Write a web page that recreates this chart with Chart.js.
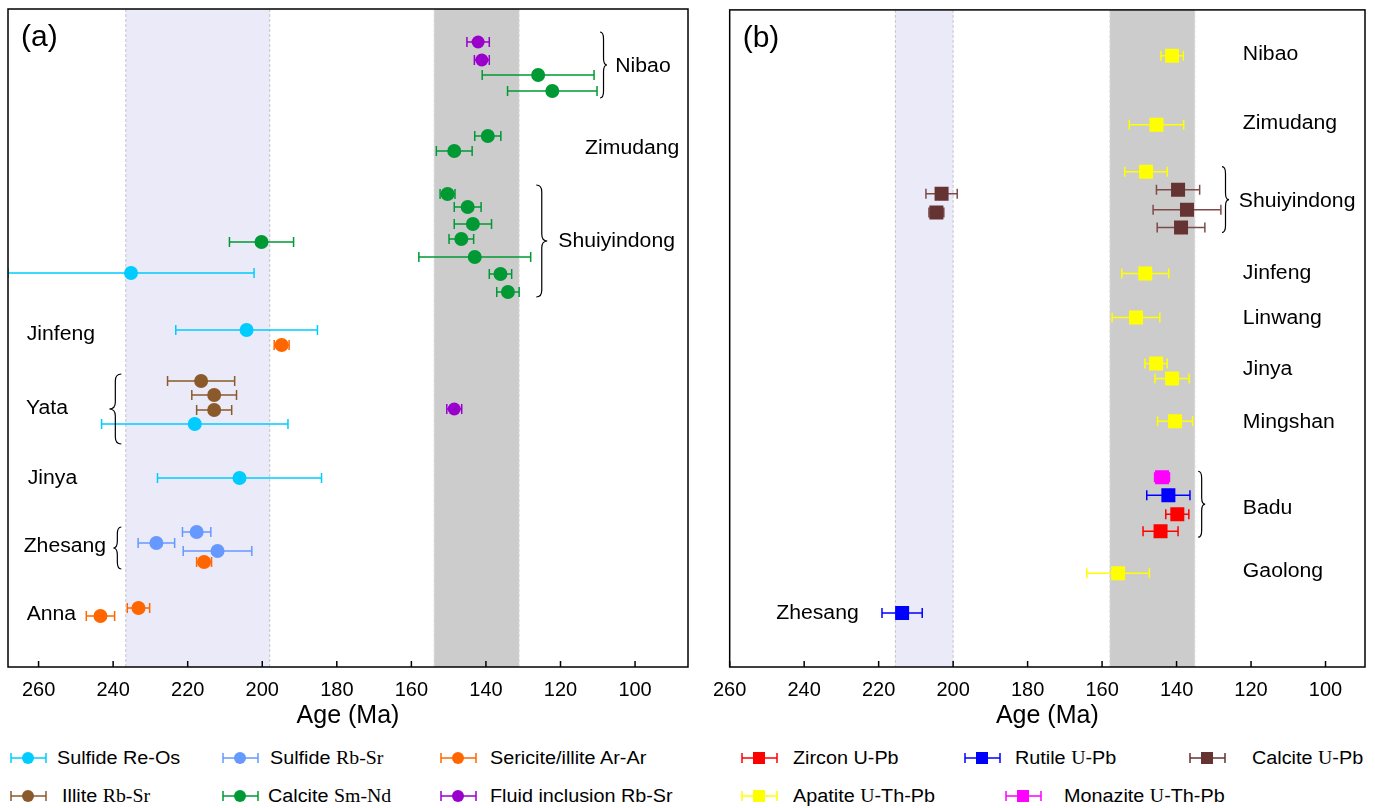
<!DOCTYPE html>
<html>
<head>
<meta charset="utf-8">
<script src="https://cdn.jsdelivr.net/npm/chart.js@4.4.1/dist/chart.umd.min.js"></script>
<style>
body { margin: 0; background: #fff; font-family: "Liberation Sans", Arial, sans-serif; }
#wrap { position: relative; width: 1375px; height: 808px; overflow: hidden; }
#ca { position: absolute; left: 0; top: 0; }
#cb { position: absolute; left: 702px; top: 0; }
.sym { position: absolute; }
.txt { position: absolute; font-size: 18px; line-height: 22px; color: #000; white-space: nowrap; transform-origin: left center; transform: scaleX(1.1); }
.sr { font-family: "Liberation Serif", "Times New Roman", serif; }
</style>
</head>
<body>
<div id="wrap">
  <canvas id="ca" width="700" height="740"></canvas>
  <canvas id="cb" width="673" height="740"></canvas>
</div>
<script>
// ---- panel (a) data: age (Ma), 2-sigma error, row position ----
var reOsAge = [235.2, 204.2, 218.1, 206.1];
var reOsErr = [33, 19, 25, 22];
var reOsRow = [26.4, 32.1, 41.5, 46.9];

var sulfRbSrAge = [217.6, 228.4, 212.0];
var sulfRbSrErr = [3.8, 4.9, 9.2];
var sulfRbSrRow = [52.3, 53.4, 54.2];

var arArAge = [194.8, 215.6, 233.2, 243.4];
var arArErr = [2, 2, 3, 3.8];
var arArRow = [33.6, 55.3, 59.9, 60.7];

var illiteAge = [216.4, 212.9, 212.9];
var illiteErr = [9, 6, 4.7];
var illiteRow = [37.2, 38.6, 40.1];

var smNdAge = [126.0, 122.2, 139.5, 148.5, 150.3, 144.9, 143.5, 146.6, 143.0, 136.1, 134.1, 200.2];
var smNdErr = [15, 12, 3.5, 4.8, 2, 3.6, 5, 3.3, 15, 3, 3, 8.6];
var smNdRow = [6.6, 8.2, 12.7, 14.2, 18.5, 19.8, 21.5, 23.0, 24.8, 26.5, 28.3, 23.3];

var fluidAge = [142.1, 141.1, 148.5];
var fluidErr = [3, 2, 2];
var fluidRow = [3.3, 5.1, 40.0];

// ---- panel (b) data ----
var zirconAge = [139.8, 144.3];
var zirconErr = [3.1, 4.7];
var zirconRow = [50.5, 52.2];

var rutileAge = [142.2, 213.7];
var rutileErr = [5.8, 5.4];
var rutileRow = [48.6, 60.4];

var calciteUPbAge = [139.6, 137.2, 138.8, 203.1, 204.5];
var calciteUPbErr = [5.8, 9.1, 6.4, 4.2, 2];
var calciteUPbRow = [18.0, 20.0, 21.8, 18.4, 20.3];

var apatiteAge = [141.2, 145.4, 148.2, 148.4, 150.9, 145.5, 141.2, 140.4, 155.7];
var apatiteErr = [3, 7.3, 5.7, 6.3, 6.4, 3, 4.6, 4.7, 8.4];
var apatiteRow = [4.6, 11.5, 16.2, 26.4, 30.8, 35.4, 36.9, 41.2, 56.4];

var monaziteAge = [143.9];
var monaziteErr = [2];
var monaziteRow = [46.8];

// ---- axes, shaded age windows, deposit names ----
var xTicks = [260, 240, 220, 200, 180, 160, 140, 120, 100];
var bandsA = [[236.6, 198.0], [153.9, 131.1]];
var bandsB = [[215.5, 200.0], [157.9, 135.1]];

var sitesA = ['Nibao', 'Zimudang', 'Shuiyindong', 'Jinfeng', 'Yata', 'Jinya', 'Zhesang', 'Anna'];
var siteAgeA = [105.3, 113.4, 120.6, 263.2, 263.4, 262.9, 264.0, 263.2];
var siteRowA = [5.7, 13.9, 23.2, 32.5, 39.9, 46.9, 53.7, 60.5];

var sitesB = ['Nibao', 'Zimudang', 'Shuiyindong', 'Jinfeng', 'Linwang', 'Jinya', 'Mingshan', 'Badu', 'Gaolong', 'Zhesang'];
var siteAgeB = [122.2, 122.2, 123.3, 122.2, 122.2, 122.2, 122.2, 122.2, 122.2, 247.5];
var siteRowB = [4.5, 11.4, 19.2, 26.4, 30.9, 36.0, 41.3, 49.9, 56.2, 60.4];

// braces: [age of ends, row top, row bottom, direction(+1 right / -1 left), px width]
var bracesA = [[109.4, 2.3, 8.9, 1, 7], [126.5, 17.6, 28.8, 1, 11], [237.8, 36.5, 43.5, -1, 12], [237.8, 51.8, 56.0, -1, 8]];
var bracesB = [[127.8, 15.7, 22.3, 1, 7], [134.2, 46.2, 52.8, 1, 7]];

Chart.defaults.font.family = '"Liberation Sans", Arial, sans-serif';
Chart.defaults.color = '#000';

function pts(ages, rows) {
  return ages.map(function (a, i) { return { x: a, y: rows[i] }; });
}

function series(label, ages, errs, rows, color, style, r, barColor) {
  return {
    label: label,
    data: pts(ages, rows),
    xErr: errs,
    barColor: barColor || color,
    pointStyle: style,
    pointRadius: r,
    pointHoverRadius: r,
    pointBackgroundColor: color,
    pointBorderColor: color,
    pointBorderWidth: 0
  };
}

function drawBrace(ctx, x0, y0, y1, dir, w) {
  var xs = x0 + dir * w * 0.5, ym = (y0 + y1) / 2, q = Math.min(7, (y1 - y0) / 5);
  ctx.beginPath();
  ctx.moveTo(x0, y0);
  ctx.quadraticCurveTo(xs, y0, xs, y0 + q);
  ctx.lineTo(xs, ym - q);
  ctx.quadraticCurveTo(xs, ym, x0 + dir * w, ym);
  ctx.quadraticCurveTo(xs, ym, xs, ym + q);
  ctx.lineTo(xs, y1 - q);
  ctx.quadraticCurveTo(xs, y1, x0, y1);
  ctx.stroke();
}

var decor = {
  id: 'decor',
  beforeDatasetsDraw: function (chart) {
    var ctx = chart.ctx, a = chart.chartArea, x = chart.scales.x, y = chart.scales.y;
    var o = chart.options.plugins.decor;
    ctx.save();
    o.bands.forEach(function (b, k) {
      var p0 = x.getPixelForValue(b[0]), p1 = x.getPixelForValue(b[1]);
      ctx.fillStyle = k === 0 ? '#eaeaf8' : '#cccccc';
      ctx.fillRect(p0, a.top, p1 - p0, a.bottom - a.top);
      ctx.strokeStyle = k === 0 ? '#c4c4cc' : '#dadada';
      ctx.lineWidth = 1;
      ctx.setLineDash([3, 2]);
      [p0, p1].forEach(function (p) {
        ctx.beginPath(); ctx.moveTo(p, a.top); ctx.lineTo(p, a.bottom); ctx.stroke();
      });
      ctx.setLineDash([]);
    });
    ctx.beginPath();
    ctx.rect(a.left, a.top, a.right - a.left, a.bottom - a.top);
    ctx.clip();
    chart.data.datasets.forEach(function (ds) {
      ctx.strokeStyle = ds.barColor;
      ctx.lineWidth = 1.5;
      ds.data.forEach(function (p, j) {
        var e = ds.xErr[j], py = y.getPixelForValue(p.y);
        var xl = x.getPixelForValue(p.x + e), xr = x.getPixelForValue(p.x - e);
        ctx.beginPath();
        ctx.moveTo(xl, py); ctx.lineTo(xr, py);
        ctx.moveTo(xl, py - 5); ctx.lineTo(xl, py + 5);
        ctx.moveTo(xr, py - 5); ctx.lineTo(xr, py + 5);
        ctx.stroke();
      });
    });
    ctx.restore();
  },
  afterDraw: function (chart) {
    var ctx = chart.ctx, a = chart.chartArea, x = chart.scales.x, y = chart.scales.y;
    var o = chart.options.plugins.decor;
    ctx.save();
    ctx.strokeStyle = '#000';
    ctx.lineWidth = 1.5;
    ctx.strokeRect(a.left, a.top, a.right - a.left, a.bottom - a.top);
    xTicks.forEach(function (v) {
      var p = x.getPixelForValue(v);
      ctx.beginPath(); ctx.moveTo(p, a.bottom); ctx.lineTo(p, a.bottom - 6); ctx.stroke();
    });
    ctx.fillStyle = '#000';
    ctx.font = '30px "Liberation Sans", Arial, sans-serif';
    ctx.textBaseline = 'middle';
    ctx.fillText(o.tag, a.left + 13, a.top + 29);
    ctx.font = '20px "Liberation Sans", Arial, sans-serif';
    o.names.forEach(function (n, i) {
      ctx.save();
      ctx.translate(x.getPixelForValue(o.nameAge[i]), y.getPixelForValue(o.nameRow[i]));
      ctx.scale(1.06, 1);
      ctx.fillText(n, 0, 0);
      ctx.restore();
    });
    ctx.lineWidth = 1.2;
    o.braces.forEach(function (b) {
      drawBrace(ctx, x.getPixelForValue(b[0]), y.getPixelForValue(b[1]), y.getPixelForValue(b[2]), b[3], b[4]);
    });
    ctx.restore();
  }
};

function makeChart(id, datasets, xMin, xMax, pad, deco) {
  return new Chart(document.getElementById(id), {
    type: 'scatter',
    data: { datasets: datasets },
    plugins: [decor],
    options: {
      responsive: false,
      animation: false,
      events: [],
      layout: { padding: pad },
      plugins: { legend: { display: false }, tooltip: { enabled: false }, decor: deco },
      scales: {
        x: {
          type: 'linear', reverse: true, min: xMin, max: xMax,
          afterBuildTicks: function (s) { s.ticks = xTicks.map(function (v) { return { value: v }; }); },
          afterFit: function (s) { s.height = 73; },
          grid: { display: false, drawTicks: false },
          border: { display: false },
          ticks: { font: { size: 20 }, padding: 11, maxRotation: 0, autoSkip: false },
          title: { display: true, text: 'Age (Ma)', font: { size: 25 }, padding: { top: 0, bottom: 9 } }
        },
        y: { type: 'linear', display: false, reverse: true, min: 0, max: 65.8 }
      }
    }
  });
}

var cyan = '#00ccff', lblue = '#6699ff', orange = '#ff6600', brown = '#8b5a2b', green = '#009933', purple = '#9900cc';
var red = '#ff0000', blue = '#0000ff', dbrown = '#663333', yellow = '#ffff00', magenta = '#ff00ff';

makeChart('ca', [
  series('Sulfide Re-Os', reOsAge, reOsErr, reOsRow, cyan, 'circle', 7),
  series('Sulfide Rb-Sr', sulfRbSrAge, sulfRbSrErr, sulfRbSrRow, lblue, 'circle', 7),
  series('Sericite/illite Ar-Ar', arArAge, arArErr, arArRow, orange, 'circle', 7),
  series('Illite Rb-Sr', illiteAge, illiteErr, illiteRow, brown, 'circle', 7),
  series('Calcite Sm-Nd', smNdAge, smNdErr, smNdRow, green, 'circle', 7),
  series('Fluid inclusion Rb-Sr', fluidAge, fluidErr, fluidRow, purple, 'circle', 6.5)
], 85.8, 268.2, { left: 8, right: 12, top: 9, bottom: 0 },
  { tag: '(a)', bands: bandsA, names: sitesA, nameAge: siteAgeA, nameRow: siteRowA, braces: bracesA });

makeChart('cb', [
  series('Calcite U-Pb', calciteUPbAge, calciteUPbErr, calciteUPbRow, dbrown, 'rect', 9.9, '#7d4a4a'),
  series('Apatite U-Th-Pb', apatiteAge, apatiteErr, apatiteRow, yellow, 'rect', 9.9),
  series('Monazite U-Th-Pb', monaziteAge, monaziteErr, monaziteRow, magenta, 'rect', 9.9),
  series('Rutile U-Pb', rutileAge, rutileErr, rutileRow, blue, 'rect', 9.9),
  series('Zircon U-Pb', zirconAge, zirconErr, zirconRow, red, 'rect', 9.9)
], 89.4, 260, { left: 17, right: 10, top: 9, bottom: 0 },
  { tag: '(b)', bands: bandsB, names: sitesB, nameAge: siteAgeB, nameRow: siteRowB, braces: bracesB });

// ---- legend (HTML, below the panels) ----
var legendItems = [
  ['Sulfide Re-Os', cyan, 'c', 10, 57, 758],
  ['Sulfide <span class="sr">Rb-Sr</span>', lblue, 'c', 222, 270, 758],
  ['Sericite/illite Ar-Ar', orange, 'c', 440, 490, 758],
  ['Illite <span class="sr">Rb-Sr</span>', brown, 'c', 10, 62, 796],
  ['Calcite <span class="sr">Sm-Nd</span>', green, 'c', 222, 268, 796],
  ['Fluid inclusion Rb-Sr', purple, 'c', 440, 490, 796],
  ['Zircon U-Pb', red, 's', 741, 793, 758],
  ['Rutile <span class="sr">U</span>-Pb', blue, 's', 964, 1015, 758],
  ['Calcite <span class="sr">U</span>-Pb', dbrown, 's', 1189, 1252, 758],
  ['Apatite <span class="sr">U</span>-Th-Pb', yellow, 's', 741, 793, 796],
  ['Monazite <span class="sr">U</span>-Th-Pb', magenta, 's', 1005, 1064, 796]
];
var wrap = document.getElementById('wrap');
legendItems.forEach(function (it) {
  var c = it[1];
  var mark = it[2] === 'c'
    ? '<circle cx="18" cy="7" r="6" fill="' + c + '"/>'
    : '<rect x="12" y="1" width="12" height="12" fill="' + c + '"/>';
  var sym = document.createElement('div');
  sym.className = 'sym';
  sym.style.left = it[3] + 'px';
  sym.style.top = (it[5] - 7) + 'px';
  sym.innerHTML = '<svg width="37" height="14"><path d="M1 7H36M1 2V12M36 2V12" stroke="' + c + '" stroke-width="1.5" fill="none"/>' + mark + '</svg>';
  wrap.appendChild(sym);
  var t = document.createElement('div');
  t.className = 'txt';
  t.style.left = it[4] + 'px';
  t.style.top = (it[5] - 11) + 'px';
  t.innerHTML = it[0];
  wrap.appendChild(t);
});
</script>
</body>
</html>
